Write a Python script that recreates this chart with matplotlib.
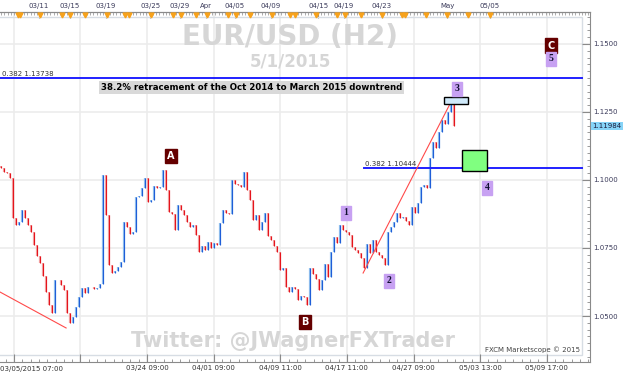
import numpy as np
import matplotlib
matplotlib.use("Agg")
import matplotlib.pyplot as plt
import matplotlib.transforms as mtransforms
from matplotlib.patches import Rectangle
from matplotlib.ticker import FixedLocator, MultipleLocator, FormatStrFormatter

# EUR/USD H2 closes, left to right
first_open = 1.1050
closes = [
    1.1044, 1.1029, 1.1026, 1.1007, 1.0860, 1.0835, 1.0846, 1.0890, 1.0860, 1.0835,
    1.0809, 1.0761, 1.0721, 1.0695, 1.0647, 1.0588, 1.0540, 1.0511, 1.0632, 1.0632,
    1.0614, 1.0596, 1.0511, 1.0474, 1.0496, 1.0533, 1.0570, 1.0603, 1.0585, 1.0607,
    1.0607, 1.0599, 1.0603, 1.0618, 1.1018, 1.0871, 1.0688, 1.0658, 1.0665, 1.0680,
    1.0698, 1.0846, 1.0827, 1.0801, 1.0809, 1.0937, 1.0941, 1.0971, 1.1007, 1.0919,
    1.0926, 1.0978, 1.0971, 1.0974, 1.1037, 1.0963, 1.0882, 1.0875, 1.0816, 1.0908,
    1.0890, 1.0871, 1.0846, 1.0827, 1.0835, 1.0798, 1.0735, 1.0757, 1.0743, 1.0772,
    1.0750, 1.0768, 1.0761, 1.0842, 1.0890, 1.0879, 1.0875, 1.1000, 1.0985, 1.0982,
    1.0974, 1.1029, 1.0963, 1.0926, 1.0853, 1.0871, 1.0816, 1.0846, 1.0879, 1.0794,
    1.0779, 1.0757, 1.0735, 1.0669, 1.0676, 1.0607, 1.0588, 1.0607, 1.0599, 1.0559,
    1.0574, 1.0570, 1.0540, 1.0676, 1.0654, 1.0636, 1.0596, 1.0632, 1.0691, 1.0643,
    1.0735, 1.0790, 1.0768, 1.0835, 1.0816, 1.0809, 1.0798, 1.0754, 1.0743, 1.0732,
    1.0713, 1.0676, 1.0765, 1.0732, 1.0779, 1.0735, 1.0724, 1.0713, 1.0688, 1.0809,
    1.0827, 1.0846, 1.0879, 1.0860, 1.0864, 1.0849, 1.0835, 1.0901, 1.0879, 1.0915,
    1.0974, 1.0982, 1.0971, 1.1081, 1.1140, 1.1118, 1.1176, 1.1221, 1.1206, 1.1250,
    1.1283, 1.11984,
]
last_price = 1.11984

fib_upper = 1.13738
fib_lower = 1.10444
fib_lower_start = 121.0

trend1_x = [-0.3, 21.7]
trend1_y = [1.0588, 1.0456]
trend2_x = [120.7, 150.0]
trend2_y = [1.0658, 1.1287]

letter_labels = ["A", "B", "C"]
letter_x = [56.7, 101.3, 183.3]
letter_y = [1.1088, 1.0478, 1.1493]
number_labels = ["1", "2", "3", "4", "5"]
number_x = [115.0, 129.3, 152.0, 162.0, 183.3]
number_y = [1.0879, 1.0629, 1.1335, 1.0971, 1.1445]

box3_x = [147.7, 155.7]
box3_y = [1.12794, 1.13051]
box4_x = [153.7, 162.0]
box4_y = [1.10331, 1.11103]

bottom_tick_pos = [4.3, 26.5, 48.7, 70.9, 93.1, 115.3, 137.5, 159.7, 181.9]
bottom_tick_labels = ["", "", "03/24 09:00", "04/01 09:00", "04/09 11:00",
                      "04/17 11:00", "04/27 09:00", "05/03 13:00", "05/09 17:00"]
top_tick_pos = [12.7, 23.0, 35.0, 49.7, 59.7, 68.3, 78.0, 90.0, 105.7, 114.3, 127.0, 148.7, 163.0]
top_tick_labels = ["03/11", "03/15", "03/19", "03/25", "03/29", "Apr", "04/05",
                   "04/09", "04/15", "04/19", "04/23", "May", "05/05"]
event_pos = [5.7, 6.3, 13.0, 20.3, 23.0, 28.0, 35.3, 41.3, 42.7, 50.0, 57.3, 60.0,
             65.0, 68.7, 75.7, 78.3, 83.0, 90.3, 96.3, 98.0, 105.0, 112.0, 114.7,
             120.0, 127.0, 133.7, 134.7, 141.7, 148.7, 155.7, 163.0]

fig = plt.figure(figsize=(6.23, 3.78), dpi=100, facecolor="white")
ax = fig.add_axes([0, 16 / 378, 590 / 623, 350 / 378])
ax.set_xlim(-0.33, 196.33)
ax.set_ylim(1.03309, 1.16176)

axis_col = "#8a8a8a"
for side in ["top", "bottom", "right"]:
    ax.spines[side].set_color(axis_col)
ax.spines["left"].set_visible(False)

# grid
for p in bottom_tick_pos:
    ax.axvline(p, color="#ececec", lw=1.2, zorder=0)
for lev in [1.05, 1.075, 1.10, 1.125, 1.15]:
    ax.axhline(lev, color="#ececec", lw=1.2, zorder=0)

# inner frame
ax.add_patch(Rectangle((-0.05, 7 / 350), 582 / 590 + 0.05, 338 / 350, transform=ax.transAxes,
                       fill=False, ec="#d7dde4", lw=1, zorder=1))

# candles
x = np.arange(len(closes))
c = np.array(closes)
o = np.array([first_open] + closes[:-1])
up = c >= o
ax.vlines(x[up], o[up], c[up], color="#92c0ee", lw=1.6, zorder=2)
ax.vlines(x[~up], o[~up], c[~up], color="#f2a4a4", lw=1.6, zorder=2)
ax.vlines(x[up], o[up], c[up], color="#1f5ed8", lw=0.8, zorder=3)
ax.vlines(x[~up], o[~up], c[~up], color="#e5141c", lw=0.8, zorder=3)

# fib lines
ax.plot([-0.33, 193.7], [fib_upper, fib_upper], color="#2020ff", lw=1.4, zorder=4)
ax.plot([fib_lower_start, 193.7], [fib_lower, fib_lower], color="#2020ff", lw=1.4, zorder=4)
ax.text(0.2, fib_upper + 0.0005, "0.382 1.13738", fontsize=5, color="#333333", va="bottom")
ax.text(fib_lower_start + 0.2, fib_lower + 0.0005, "0.382 1.10444", fontsize=5, color="#333333", va="bottom")

# trend lines
ax.plot(trend1_x, trend1_y, color="#ff4a4a", lw=0.8, zorder=4)
ax.plot(trend2_x, trend2_y, color="#ff4a4a", lw=0.8, zorder=4)

# target boxes
ax.add_patch(Rectangle((box3_x[0], box3_y[0]), box3_x[1] - box3_x[0], box3_y[1] - box3_y[0],
                       fc="#cfe9fa", ec="black", lw=1, zorder=5))
ax.add_patch(Rectangle((box4_x[0], box4_y[0]), box4_x[1] - box4_x[0], box4_y[1] - box4_y[0],
                       fc="#80ff80", ec="black", lw=1, zorder=5))

# wave labels
for lab, lx, ly in zip(letter_labels, letter_x, letter_y):
    ax.text(lx, ly, lab, fontsize=7, color="white", fontweight="bold", ha="center", va="center",
            bbox=dict(boxstyle="square,pad=0.25", fc="#650000", ec="#650000"), zorder=6)
for lab, lx, ly in zip(number_labels, number_x, number_y):
    ax.text(lx, ly, lab, fontsize=7, color="#101030", fontweight="bold", family="Liberation Serif",
            ha="center", va="center",
            bbox=dict(boxstyle="square,pad=0.25", fc="#c7a1f2", ec="#c7a1f2"), zorder=6)

# annotation
ax.text(33.3, 1.1340, "38.2% retracement of the Oct 2014 to March 2015 downtrend", fontsize=6.2,
        fontweight="bold", color="black", ha="left", va="center",
        bbox=dict(boxstyle="square,pad=0.2", fc="#d9d9d9", ec="none"), zorder=6)

# watermarks
ax.text(0.492, 0.93, "EUR/USD (H2)", transform=ax.transAxes, fontsize=20, fontweight="bold",
        color="#d6d6d6", ha="center", va="center", zorder=1)
ax.text(0.492, 0.86, "5/1/2015", transform=ax.transAxes, fontsize=12, fontweight="bold",
        color="#d6d6d6", ha="center", va="center", zorder=1)
ax.text(0.497, 0.06, "Twitter: @JWagnerFXTrader", transform=ax.transAxes, fontsize=15,
        fontweight="bold", color="#d6d6d6", ha="center", va="center", zorder=1)
ax.text(0.983, 0.026, "FXCM Marketscope \u00a9 2015", transform=ax.transAxes, fontsize=5,
        color="#444444", ha="right", va="bottom", zorder=6)

# right price axis
ax.yaxis.tick_right()
ax.yaxis.set_major_locator(FixedLocator([1.05, 1.075, 1.10, 1.125, 1.15]))
ax.yaxis.set_minor_locator(MultipleLocator(0.0025))
ax.yaxis.set_major_formatter(FormatStrFormatter("%.4f"))
ax.tick_params(axis="y", which="major", direction="in", length=6, width=0.8, color=axis_col,
               labelsize=5, labelcolor="#3a3a5a", pad=2)
ax.tick_params(axis="y", which="minor", direction="in", length=2.5, width=0.6, color=axis_col)
ax.text(1.004, last_price, "1.11984", transform=mtransforms.blended_transform_factory(ax.transAxes, ax.transData),
        fontsize=5, color="#1a1a3a", ha="left", va="center", clip_on=False,
        bbox=dict(boxstyle="square,pad=0.15", fc="#86d3f7", ec="none"))

# bottom date axis
ax.xaxis.set_major_locator(FixedLocator(bottom_tick_pos))
ax.set_xticklabels(bottom_tick_labels)
ax.xaxis.set_minor_locator(FixedLocator(np.arange(bottom_tick_pos[0] - 2.775, 196, 2.775)))
ax.tick_params(axis="x", which="major", direction="in", length=6, width=0.8, color=axis_col,
               labelsize=5, labelcolor="#333333", pad=2)
ax.tick_params(axis="x", which="minor", direction="in", length=2.5, width=0.6, color=axis_col)
ax.text(0.0, -0.012, "03/05/2015 07:00", transform=ax.transAxes, fontsize=5, color="#333333",
        ha="left", va="top")

# top date axis with event markers
top = ax.secondary_xaxis("top")
top.set_xticks(top_tick_pos)
top.set_xticklabels(top_tick_labels)
top.xaxis.set_minor_locator(MultipleLocator(1.1))
top.tick_params(axis="x", which="major", direction="in", length=4, width=0.8, color=axis_col,
                labelsize=5, labelcolor="#3a3a5a", pad=2)
top.tick_params(axis="x", which="minor", direction="in", length=2, width=0.5, color=axis_col)
top.spines["top"].set_color(axis_col)
tr = mtransforms.blended_transform_factory(ax.transData, ax.transAxes)
ax.plot(event_pos, [0.991] * len(event_pos), linestyle="none", marker="v", markersize=3.5,
        color="#f7a21b", transform=tr, clip_on=False, zorder=7)

fig.savefig("out.png", dpi=100, facecolor="white")
